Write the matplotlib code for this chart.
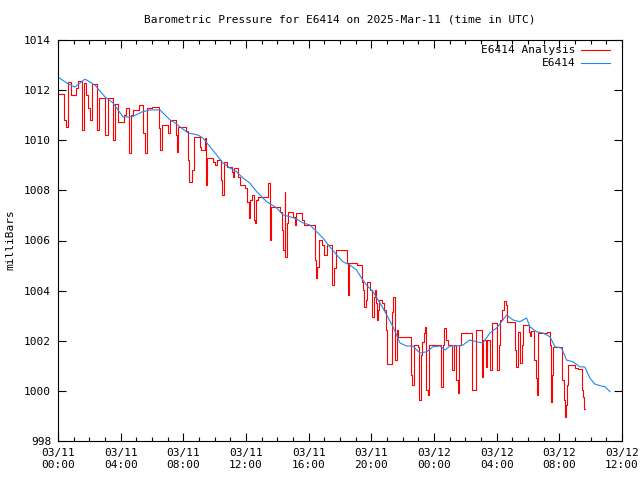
import matplotlib
matplotlib.use('Agg')
import matplotlib.pyplot as plt
from matplotlib.lines import Line2D

# hours since 2025-03-11 00:00 UTC, pressure in mb
obs_hours = [0, 0.57, 1.08, 1.72, 2.36, 3.0, 3.51, 4.15, 4.72, 5.36, 5.87, 6.51, 7.15, 7.47,
             8.30, 8.93, 9.25, 9.70, 10.13, 10.53, 10.98, 11.40, 11.81, 12.25, 12.68, 13.32,
             13.96, 14.36, 14.81, 15.23, 15.64, 16.08, 16.51, 16.91, 17.36, 17.80, 18.19,
             18.63, 19.06, 19.38, 19.70, 20.10, 20.55, 20.98, 21.38, 21.83, 22.25, 22.65,
             23.10, 23.53, 23.93, 24.38, 24.70, 25.02, 25.45, 25.85, 26.29, 26.72, 27.12,
             27.57, 28.0, 28.32, 28.63, 29.04, 29.48, 29.91, 30.12, 30.55, 30.95, 31.40,
             31.72, 32.14, 32.46, 32.87, 33.31, 33.63, 33.95, 34.27, 34.70, 34.91, 35.23]
obs_mb = [1012.52, 1012.28, 1012.12, 1012.44, 1012.20, 1011.73, 1011.49, 1010.93, 1010.93,
          1011.13, 1011.21, 1011.21, 1010.81, 1010.69, 1010.29, 1010.21, 1010.09, 1009.74,
          1009.41, 1009.09, 1008.89, 1008.74, 1008.49, 1008.29, 1007.95, 1007.55, 1007.30,
          1007.02, 1006.95, 1006.86, 1006.70, 1006.62, 1006.35, 1006.10, 1005.74, 1005.42,
          1005.15, 1005.02, 1004.82, 1004.50, 1004.22, 1003.96, 1003.51, 1003.03, 1002.56,
          1001.91, 1001.79, 1001.79, 1001.51, 1001.56, 1001.76, 1001.79, 1001.63, 1001.79,
          1001.79, 1001.83, 1002.03, 1001.96, 1001.91, 1002.31, 1002.51, 1002.76, 1003.03,
          1002.83, 1002.76, 1002.91, 1002.56, 1002.36, 1002.31, 1002.16, 1001.76, 1001.71,
          1001.23, 1001.16, 1000.96, 1000.95, 1000.51, 1000.27, 1000.19, 1000.17, 999.97]

ana_hours = [0, 0.38, 0.51, 0.64, 0.83, 1.15, 1.28, 1.53, 1.63, 1.79, 1.91, 2.04, 2.17, 2.49,
             2.62, 3.00, 3.16, 3.51, 3.64, 3.83, 4.21, 4.34, 4.53, 4.66, 4.79, 5.17, 5.43,
             5.55, 5.65, 6.00, 6.45, 6.51, 6.61, 7.02, 7.15, 7.53, 7.58, 7.63, 8.17, 8.30,
             8.36, 8.55, 8.68, 9.06, 9.13, 9.38, 9.45, 9.54, 9.89, 10.02, 10.15, 10.40, 10.47,
             10.60, 10.79, 11.11, 11.17, 11.23, 11.49, 11.62, 11.94, 12.06, 12.16, 12.26,
             12.38, 12.48, 12.57, 12.67, 12.77, 13.42, 13.50, 13.60, 14.17, 14.27, 14.36,
             14.46, 14.52, 14.62, 14.68, 15.00, 15.10, 15.19, 15.57, 15.70, 16.40, 16.45,
             16.53, 16.63, 16.85, 16.98, 17.17, 17.47, 17.51, 17.62, 17.73, 18.43, 18.48,
             18.53, 18.57, 19.08, 19.39, 19.47, 19.55, 19.66, 19.70, 19.91, 20.02, 20.14,
             20.23, 20.30, 20.36, 20.43, 20.49, 20.66, 20.84, 20.94, 21.03, 21.32, 21.38,
             21.48, 21.62, 21.70, 22.51, 22.60, 22.72, 22.98, 23.04, 23.17, 23.23, 23.36,
             23.43, 23.49, 23.59, 23.68, 24.45, 24.57, 24.66, 24.77, 24.89, 25.13, 25.28,
             25.39, 25.51, 25.60, 25.72, 26.41, 26.66, 27.04, 27.15, 27.30, 27.38, 27.57,
             27.68, 28.00, 28.15, 28.24, 28.34, 28.47, 28.60, 28.69, 29.14, 29.23, 29.33,
             29.38, 29.46, 29.62, 29.70, 30.06, 30.13, 30.19, 30.40, 30.48, 30.56, 30.62,
             31.19, 31.40, 31.47, 31.56, 31.61, 32.17, 32.27, 32.33, 32.43, 32.49, 32.57,
             33.00, 33.19, 33.45, 33.51, 33.58, 33.64]
ana_mb = [1011.85, 1010.81, 1010.53, 1012.32, 1011.81, 1012.08, 1012.36, 1010.41, 1012.28,
          1011.81, 1011.29, 1010.81, 1012.24, 1010.41, 1011.69, 1010.21, 1011.69, 1010.01,
          1011.45, 1010.73, 1011.01, 1011.29, 1009.49, 1011.01, 1011.21, 1011.41, 1010.29,
          1009.49, 1011.29, 1011.33, 1010.49, 1009.61, 1010.61, 1010.29, 1010.81, 1010.21,
          1009.53, 1010.53, 1010.37, 1009.21, 1008.33, 1008.81, 1010.13, 1009.73, 1009.61,
          1010.09, 1008.21, 1009.29, 1009.13, 1009.01, 1009.21, 1008.41, 1007.82, 1009.13,
          1008.93, 1008.73, 1008.53, 1008.89, 1008.53, 1008.21, 1008.09, 1007.54, 1006.90,
          1007.62, 1007.82, 1006.82, 1006.70, 1007.62, 1007.74, 1008.29, 1006.02, 1007.34,
          1007.14, 1006.42, 1005.62, 1007.94, 1005.34, 1006.70, 1007.14, 1006.94, 1006.62,
          1007.10, 1006.82, 1006.62, 1005.22, 1004.50, 1004.94, 1006.02, 1005.82, 1005.42,
          1005.82, 1004.82, 1004.22, 1004.90, 1005.62, 1005.10, 1004.30, 1003.83, 1005.10,
          1005.02, 1004.34, 1004.02, 1003.35, 1003.63, 1004.34, 1004.02, 1002.95, 1003.75,
          1004.02, 1003.51, 1002.83, 1003.23, 1003.63, 1003.51, 1003.23, 1002.43, 1001.07,
          1003.15, 1003.75, 1001.23, 1002.43, 1002.15, 1000.63, 1000.23, 1001.83, 1001.75,
          999.64, 1001.43, 1001.95, 1002.31, 1002.55, 1000.03, 999.84, 1001.83, 1000.15,
          1001.83, 1002.51, 1002.03, 1001.83, 1000.83, 1001.83, 1000.43, 999.92, 1001.83,
          1002.31, 1000.03, 1002.43, 1000.55, 1002.03, 1000.95, 1002.03, 1000.83, 1002.71,
          1000.83, 1001.83, 1002.83, 1003.23, 1003.59, 1003.43, 1002.75, 1001.63, 1000.95,
          1002.03, 1002.35, 1001.11, 1001.83, 1002.63, 1002.35, 1002.19, 1002.39, 1001.23,
          1000.51, 999.84, 1002.31, 1002.35, 1001.83, 999.56, 1000.63, 1001.75, 1000.43,
          999.64, 998.96, 999.44, 1000.23, 1001.03, 1000.91, 1000.87, 1000.03, 999.76,
          999.28, 999.28]

tick_hours = [0, 4, 8, 12, 16, 20, 24, 28, 32, 36]
tick_labels = ['03/11\n00:00', '03/11\n04:00', '03/11\n08:00', '03/11\n12:00', '03/11\n16:00',
               '03/11\n20:00', '03/12\n00:00', '03/12\n04:00', '03/12\n08:00', '03/12\n12:00']
ytick_vals = [998, 1000, 1002, 1004, 1006, 1008, 1010, 1012, 1014]

RED = '#ff0000'
BLUE = '#1e88f0'
LW = 0.8

plt.rcParams['font.family'] = 'DejaVu Sans Mono'
plt.rcParams['font.size'] = 8

fig = plt.figure(figsize=(6.4, 4.8), dpi=100)
ax = fig.add_axes([58 / 640, 39 / 480, 564 / 640, 401 / 480])

ax.plot(ana_hours, ana_mb, color=RED, lw=LW, drawstyle='steps-post')
ax.plot(obs_hours, obs_mb, color=BLUE, lw=LW)

ax.set_xlim(0, 36)
ax.set_ylim(998, 1014)
ax.set_xticks(tick_hours)
ax.set_xticklabels(tick_labels)
ax.set_xticks(range(0, 37, 1), minor=True)
ax.set_yticks(ytick_vals)
ax.set_yticklabels([str(v) for v in ytick_vals])
ax.tick_params(which='both', direction='in', top=True, right=True, width=0.8, color='black')
ax.tick_params(which='major', length=6, pad=5, labelsize=8)
ax.tick_params(which='minor', length=3)
for sp in ax.spines.values():
    sp.set_linewidth(0.8)

fig.text(340 / 640, 1 - 19 / 480, 'Barometric Pressure for E6414 on 2025-Mar-11 (time in UTC)',
         ha='center', va='center', fontsize=8)
fig.text(10 / 640, 0.5, 'milliBars', rotation=90, ha='center', va='center', fontsize=8)

# gnuplot style key: text right aligned, sample to its right
key = [('E6414 Analysis', RED), ('E6414', BLUE)]
for i, (name, col) in enumerate(key):
    yk = 0.975 - i * 0.0325
    ax.text(0.917, yk, name, transform=ax.transAxes, ha='right', va='center', fontsize=8)
    ax.add_line(Line2D([0.927, 0.979], [yk, yk], transform=ax.transAxes, color=col, lw=LW))

fig.savefig('out.png', dpi=100)
